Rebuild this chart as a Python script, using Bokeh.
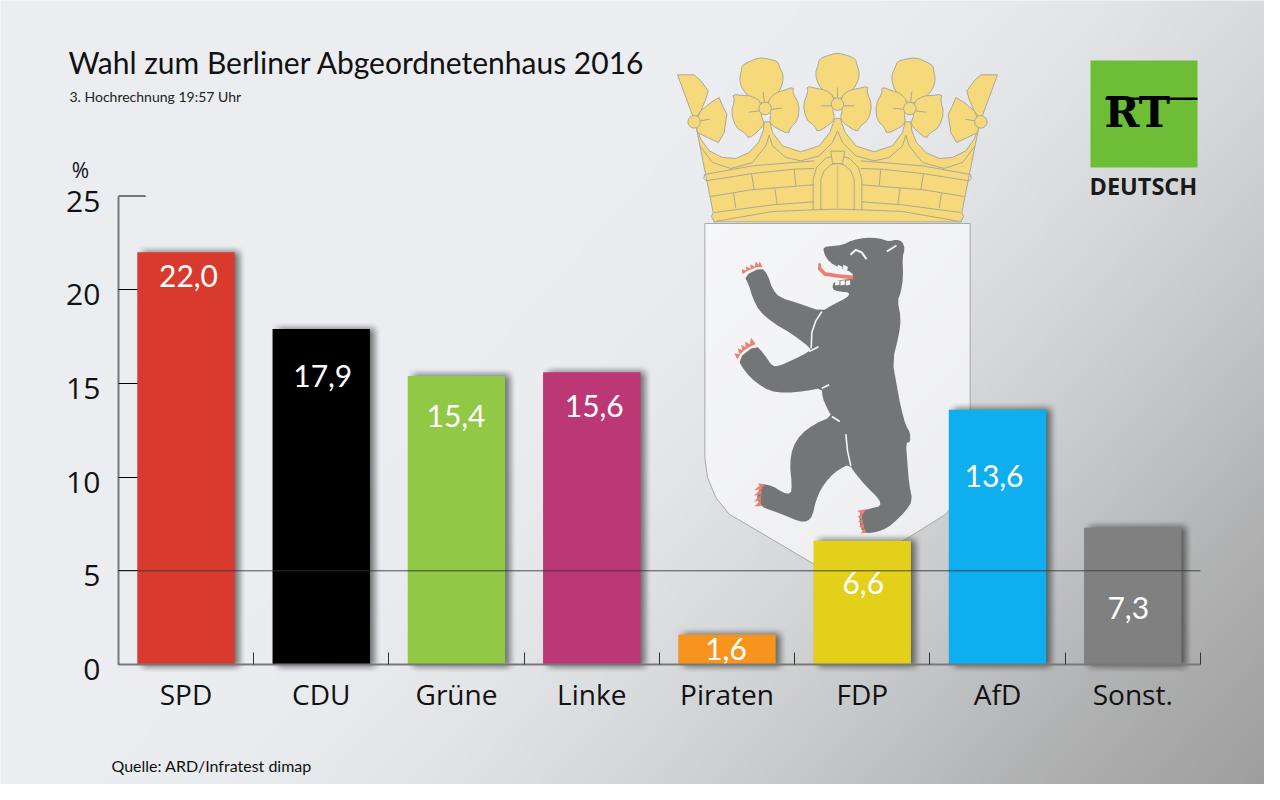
import numpy as np
from bokeh.core.properties import value
from bokeh.embed import file_html
from bokeh.models import ColumnDataSource, FixedTicker, LinearAxis, Range1d
from bokeh.plotting import figure
from bokeh.resources import INLINE

# ---- data -------------------------------------------------------------
parties = ["SPD", "CDU", "Grüne", "Linke", "Piraten", "FDP", "AfD", "Sonst."]
shares = [22.0, 17.9, 15.4, 15.6, 1.6, 6.6, 13.6, 7.3]
bar_colors = ["#d93a2e", "#000000", "#91c846", "#bc3874", "#f7941e", "#e2d01a", "#0eaeef", "#808080"]
y_ticks = [0, 5, 10, 15, 20, 25]
threshold = [5, 5]
title = "Wahl zum Berliner Abgeordnetenhaus 2016"
subtitle = "3. Hochrechnung  19:57 Uhr"
source_note = "Quelle: ARD/Infratest dimap"

# ---- layout (page pixels) ----------------------------------------------
W, H = 1264, 784
X0, DX = 193.5, 135.25      # centre of first bar, bar spacing
Y0, DY = 672.0, 18.74       # y = 0, pixels per percent
BAR_W = 0.72
label_py = [283, 383, 423, 413, 656, 590, 483, 615]
label_dx = [2.5, 1.5, -0.5, 2.5, -1, 1, -3.5, -4.5]

p = figure(width=W, height=H, output_backend="svg", toolbar_location=None,
           x_range=Range1d((8 - X0) / DX, (1272 - X0) / DX),
           y_range=Range1d((Y0 - 792) / DY, (Y0 - 8) / DY),
           min_border=0, min_border_left=0, min_border_right=0, min_border_top=0, min_border_bottom=0,
           outline_line_color=None)
p.grid.visible = False
p.background_fill_color = "#eceef1"
p.border_fill_color = "#eceef1"
p.extra_x_ranges = {"px": Range1d(8, 1272)}
p.extra_y_ranges = {"py": Range1d(8, 792),
                    "ylab": Range1d((Y0 + 5 - 792) / DY, (Y0 + 5 - 8) / DY)}

# ---- background --------------------------------------------------------
gx, gy = np.meshgrid(np.arange(8, 1272, 2) + 1.0, np.arange(792, 8, -2) - 1.0)
u = 0.08 * gx + 0.072 * gy - 78.9
u = 8 * np.log1p(np.exp(np.clip(u / 8, -30, 30)))
u = u * (0.7 + 0.3 * np.clip(u / 60, 0, 1))
t = np.clip(u / 85, 0, 1.1)
val = 238 - u
bg = np.zeros(gx.shape + (4,), dtype=np.uint8)
bg[..., 0] = np.clip(val - 2 * (1 - t), 0, 255)
bg[..., 1] = np.clip(val, 0, 255)
bg[..., 2] = np.clip(val + 3 * (1 - t), 0, 255)
bg[..., 3] = 255
bg_view = bg.view(dtype=np.uint32).reshape(gx.shape)
p.image_rgba(image=[bg_view], x=[8], y=[8], dw=[1264], dh=[784], level="image",
             x_range_name="px", y_range_name="py")


# ---- decoration helpers (page pixel drawing) ---------------------------
def chaikin(pts, n=1):
    pts = list(pts)
    for _ in range(n):
        out = []
        for i in range(len(pts)):
            a, b = np.array(pts[i]), np.array(pts[(i + 1) % len(pts)])
            out += [tuple(0.75 * a + 0.25 * b), tuple(0.25 * a + 0.75 * b)]
        pts = out
    return pts


def poly(pts, fill, line=None, lw=1.0, alpha=1.0):
    p.patch([q[0] for q in pts], [800 - q[1] for q in pts], fill_color=fill, fill_alpha=alpha,
            line_color=line, line_width=lw, x_range_name="px", y_range_name="py")


def stroke(pts, color, lw=1.0):
    p.line([q[0] for q in pts], [800 - q[1] for q in pts], line_color=color, line_width=lw,
           x_range_name="px", y_range_name="py")


def z1(pts):
    return [(680 + a / 3, 50 + b / 3) for a, b in pts]


def z2(pts):
    return [(700 + a / 3, 225 + b / 3) for a, b in pts]


def mir(pts):
    return [(990 - a, b) for a, b in pts]


def ptext(x, y, s, font, size, color="#111111", style="normal", align="left", base="alphabetic"):
    # the alphabetic baseline lands 0.42 em below the anchor in the SVG output
    shift = 0.42 * size if base == "alphabetic" else 0
    p.text([x], [800 - (y - shift)], text=[s], text_font=value(font), text_font_style=style,
           text_font_size=f"{size}px", text_color=color, text_align=align, text_baseline=base,
           x_range_name="px", y_range_name="py")


# ---- crown -------------------------------------------------------------
GOLD, EDGE = "#f5d97a", "#aaa89a"
half_top = [(72, 258), (85, 290), (110, 325), (150, 345), (190, 348), (230, 330), (258, 300), (272, 265),
            (275, 238), (292, 238), (300, 270), (330, 310), (385, 328), (440, 310), (472, 270), (487, 228)]
body = half_top + [(503, 228)] + [(990 - a, b) for a, b in reversed(half_top)] + \
       [(868, 510), (873, 522), (865, 538), (125, 538), (117, 522), (122, 510)]
poly(z1(body), GOLD, EDGE)

centre_top = [(0, -154), (32, -145), (54, -136), (58, -118), (66, -95), (62, -70), (48, -45), (25, -28), (10, -17)]
centre_top = [(-a, b) for a, b in reversed(centre_top)] + centre_top[1:]
centre_right = [(10, -22), (35, -42), (62, -47), (92, -54), (88, -36), (103, 0), (94, 46), (68, 66), (60, 84),
                (25, 62), (8, 45), (15, 15)]
centre_left = [(-a, b) for a, b in centre_right]


def flower(cx, cy, deg):
    c, s = np.cos(np.radians(deg)), np.sin(np.radians(deg))
    rot = lambda pts: [(cx + a * c - b * s, cy + a * s + b * c) for a, b in pts]
    for leaf in (centre_top, centre_right, centre_left):
        poly(z1(chaikin(rot(leaf))), GOLD, EDGE)
    stroke(z1(rot([(0, -50), (0, -17)])), EDGE)
    stroke(z1(rot([(-50, 5), (-18, 5)])), EDGE)
    stroke(z1(rot([(18, 5), (50, 5)])), EDGE)
    xs, ys = zip(*z1([(cx, cy)]))
    p.scatter(list(xs), [800 - v for v in ys], size=12.5, fill_color=GOLD, line_color=EDGE,
              x_range_name="px", y_range_name="py")


flower(495, 185, 0)
flower(278, 198, -7)
flower(712, 198, 7)

out_top = [(15, 97), (65, 97), (85, 115), (107, 145), (100, 170), (85, 205), (65, 232)]
out_low = [(85, 205), (115, 180), (140, 165), (150, 190), (163, 215), (155, 270), (138, 300), (105, 285), (75, 270), (68, 240)]
for pts in (out_top, out_low):
    poly(z1(pts), GOLD, EDGE)
    poly(z1(mir(pts)), GOLD, EDGE)
for cx in (65, 925):
    p.scatter([680 + cx / 3], [800 - (50 + 238 / 3)], size=12.5, fill_color=GOLD, line_color=EDGE,
              x_range_name="px", y_range_name="py")
stroke(z1([(85, 235), (112, 230)]), EDGE)
stroke(z1(mir([(85, 235), (112, 230)])), EDGE)

crown_lines = [
    [(82, 310), (120, 360), (175, 378), (240, 360), (280, 310), (290, 278), (300, 310), (340, 345), (385, 355),
     (440, 340), (480, 300), (495, 265)],
    [(96, 396), (240, 370), (425, 355)],
    [(100, 415), (240, 393), (365, 380), (425, 378)],
    [(115, 462), (235, 442), (422, 427)],
    [(125, 510), (300, 487), (422, 478)],
    [(122, 538), (300, 507), (422, 502), (495, 500)],
    [(237, 393), (245, 442)], [(365, 380), (370, 430)], [(183, 452), (190, 497)], [(307, 437), (314, 485)],
    [(96, 396), (94, 408), (100, 415)],
]
for ln in crown_lines:
    stroke(z1(ln), EDGE)
    stroke(z1(mir(ln)), EDGE)
door_out = [(422, 502), (422, 410), (432, 375), (460, 347), (495, 338), (530, 347), (558, 375), (568, 410), (568, 502)]
door_in = [(445, 502), (445, 410), (455, 385), (475, 367), (495, 362), (515, 367), (535, 385), (545, 410), (545, 502)]
stroke(z1(door_out), EDGE)
stroke(z1(door_in), EDGE)
stroke(z1([(495, 362), (495, 500)]), "#d8c282", 1.5)
poly(z1([(475, 326), (517, 326), (510, 363), (480, 363)]), GOLD, EDGE)

# ---- shield and bear ---------------------------------------------------
shield = [(37, 18), (833, 18), (833, 720), (825, 780), (800, 840), (760, 890), (640, 965), (435, 1083), (365, 1040),
          (110, 890), (70, 840), (45, 780), (37, 720)]
poly(z2(shield), "#fafafb", "#a8a8a8", 1.0, alpha=0.72)

BEAR = "#747576"
bear = [(392, 88), (420, 86), (450, 82), (480, 68), (520, 60), (560, 62), (590, 72), (610, 66), (630, 72), (637, 95),
        (630, 118), (632, 180), (625, 225), (615, 250), (625, 300), (620, 350), (600, 430), (612, 500), (625, 570),
        (640, 625), (653, 645), (653, 675), (640, 675), (645, 740), (650, 800), (660, 850), (640, 880), (600, 920),
        (570, 938), (535, 947), (510, 945), (500, 910), (505, 880), (540, 872), (565, 865), (560, 845), (520, 805),
        (490, 770), (470, 740), (440, 755), (410, 780), (385, 815), (370, 850), (360, 895), (345, 912), (320, 912),
        (280, 895), (240, 880), (205, 867), (190, 835), (210, 800), (240, 805), (270, 825), (295, 830), (298, 800),
        (292, 740), (300, 690), (325, 650), (365, 620), (418, 597), (405, 575), (390, 540), (388, 512), (340, 520),
        (280, 527), (230, 520), (190, 495), (160, 465), (135, 425), (190, 382), (215, 410), (240, 447), (260, 445),
        (300, 428), (350, 402), (355, 392), (300, 350), (240, 315), (200, 280), (180, 240), (170, 205), (155, 175),
        (207, 150), (225, 170), (240, 215), (262, 240), (320, 258), (388, 282), (420, 262), (465, 240), (472, 225),
        (440, 222), (418, 215), (425, 190), (470, 185), (482, 182), (480, 165), (440, 150), (412, 135), (395, 110)]
poly(z2(chaikin(bear)), BEAR)
WHITE = "#f4f5f6"
for ln in ([(388, 282), (370, 310), (358, 345), (356, 392)], [(378, 388), (350, 402)], [(388, 512), (410, 502)],
           [(418, 597), (442, 612)], [(460, 650), (465, 700), (475, 745)]):
    stroke(z2(ln), WHITE, 1.6)
stroke(z2([(474, 112), (490, 97), (508, 105), (522, 125)]), WHITE, 2.0)
stroke(z2([(583, 102), (612, 84)]), WHITE, 2.0)
PINK = "#ec7f70"
poly(z2([(378, 137), (376, 155), (395, 175), (430, 180), (482, 186), (482, 174), (440, 170), (400, 164), (386, 150), (385, 137)]), PINK)
for a in (418, 436, 452):
    poly(z2([(a, 142), (a + 14, 148), (a + 12, 160), (a, 156)]), WHITE)
for a in (428, 444, 460):
    poly(z2([(a, 190), (a + 13, 188), (a + 13, 202), (a, 204)]), WHITE)
claws = [
    [(150, 170), (148, 155), (165, 160)], [(162, 162), (160, 147), (177, 154)], [(174, 157), (174, 140), (190, 150)],
    [(186, 150), (190, 132), (203, 147)], [(196, 148), (202, 132), (210, 150)],
    [(135, 425), (125, 408), (143, 410)], [(142, 412), (135, 392), (153, 400)], [(150, 402), (146, 382), (164, 392)],
    [(160, 395), (158, 372), (177, 384)], [(172, 387), (175, 360), (190, 380)],
    [(210, 815), (185, 818), (206, 800)], [(208, 830), (184, 835), (205, 815)], [(205, 848), (184, 852), (205, 832)],
    [(205, 866), (186, 866), (205, 848)], [(220, 800), (195, 798), (208, 810)],
    [(510, 893), (495, 880), (520, 875)], [(508, 907), (495, 897), (510, 890)], [(510, 922), (497, 912), (512, 905)],
    [(514, 935), (500, 928), (514, 918)], [(522, 945), (505, 948), (516, 932)],
]
for c in claws:
    poly(z2(c), PINK)

# ---- RT logo -----------------------------------------------------------
poly([(1098, 68), (1205, 68), (1205, 175), (1098, 175)], "#6dbe36")
ptext(1112, 137.5, "RT", "DejaVu Serif", 42, "#000000", style="bold")
poly([(1113, 105), (1205, 105), (1205, 107.5), (1113, 107.5)], "#000000")
ptext(1097, 203, "DEUTSCH", "Open Sans", 23.5, "#1a1a1a", style="bold")

# ---- titles ------------------------------------------------------------
ptext(76, 82, title, "Lato", 30)
ptext(77, 110, subtitle, "Lato", 14, "#222222")
ptext(119, 780, source_note, "Lato", 16)
ptext(88, 177, "%", "Open Sans", 21, align="center", base="middle")

# ---- axes --------------------------------------------------------------
AX_GRAY = "#777879"
yax = p.yaxis[0]
yax.fixed_location = -0.5
yax.bounds = (0, 25)
yax.ticker = FixedTicker(ticks=y_ticks)
yax.level = "underlay"
yax.axis_line_color = AX_GRAY
yax.axis_line_width = 2
yax.major_tick_line_color = "#000000"
yax.major_tick_in = 27
yax.major_tick_out = 0
yax.minor_tick_line_color = None
yax.major_label_text_font_size = "0px"
yax.major_label_text_color = None

ylab = LinearAxis(y_range_name="ylab", fixed_location=-0.5, ticker=FixedTicker(ticks=y_ticks),
                  axis_line_color=None, major_tick_line_color=None, minor_tick_line_color=None,
                  major_tick_in=0, major_tick_out=0, major_label_standoff=18,
                  major_label_text_font="Open Sans", major_label_text_font_size="30px",
                  major_label_text_color="#111111")
p.add_layout(ylab, "left")
p.line([-0.5, -0.5 + 27 / DX], [y_ticks[-1]] * 2, line_color=AX_GRAY, line_width=2)

xax = p.xaxis[0]
xax.fixed_location = 0
xax.bounds = (-0.5, len(parties) - 0.5)
xax.ticker = FixedTicker(ticks=[i + 0.5 for i in range(len(parties))])
xax.axis_line_color = AX_GRAY
xax.axis_line_width = 2
xax.major_tick_line_color = "#333333"
xax.major_tick_in = 12
xax.major_tick_out = 0
xax.minor_tick_line_color = None
xax.major_label_text_font_size = "0px"
xax.major_label_text_color = None

cat_axis = LinearAxis(fixed_location=0, ticker=FixedTicker(ticks=list(range(len(parties)))),
                      major_label_overrides={i: c for i, c in enumerate(parties)},
                      axis_line_color=None, major_tick_line_color=None, minor_tick_line_color=None,
                      major_tick_in=0, major_tick_out=0, major_label_standoff=10,
                      major_label_text_font="Open Sans", major_label_text_font_size="28px",
                      major_label_text_color="#111111")
p.add_layout(cat_axis, "below")


# ---- shadows -----------------------------------------------------------
def shadow(i, v):
    m, r, off = 18, 7.0, 5.0
    w_px, h_px = int(round(BAR_W * DX)), int(round(v * DY))
    xx = np.arange(w_px + 2 * m) - m + 0.5
    yy = np.arange(h_px + 2 * m) - m + 0.5
    ss = lambda e: np.clip(e / (2 * r) + 0.5, 0, 1) ** 2 * (3 - 2 * np.clip(e / (2 * r) + 0.5, 0, 1))
    ax = ss(xx - off) * ss(w_px + off - xx)
    ay = ss(yy + 2) * ss(h_px + 1 - yy)
    al = np.outer(ay, ax) * 0.62 * 255
    arr = np.zeros(al.shape + (4,), dtype=np.uint8)
    arr[..., 0:3] = 30
    arr[..., 3] = al.astype(np.uint8)
    p.image_rgba(image=[arr.view(dtype=np.uint32).reshape(al.shape)], x=[i - BAR_W / 2 - m / DX], y=[-m / DY],
                 dw=[(w_px + 2 * m) / DX], dh=[(h_px + 2 * m) / DY])


for i, v in enumerate(shares):
    shadow(i, v)

# ---- bars, threshold, value labels -------------------------------------
src = ColumnDataSource(dict(x=list(range(len(parties))), top=shares, color=bar_colors,
                            lx=[i + d / DX for i, d in enumerate(label_dx)],
                            label=[f"{v:.1f}".replace(".", ",") for v in shares],
                            ly=[800 - q for q in label_py]))
p.vbar(x="x", top="top", bottom=0, width=BAR_W, fill_color="color", line_color=None, source=src)
p.line([-0.5, len(parties) - 0.5], threshold, line_color="#333333", line_alpha=0.85, line_width=1)
p.text(x="lx", y="ly", text="label", text_font=value("Lato"), text_font_size="30px", text_color="#ffffff",
       text_align="center", text_baseline="middle", source=src, y_range_name="py")

open("out.html", "w").write(file_html(p, INLINE))
